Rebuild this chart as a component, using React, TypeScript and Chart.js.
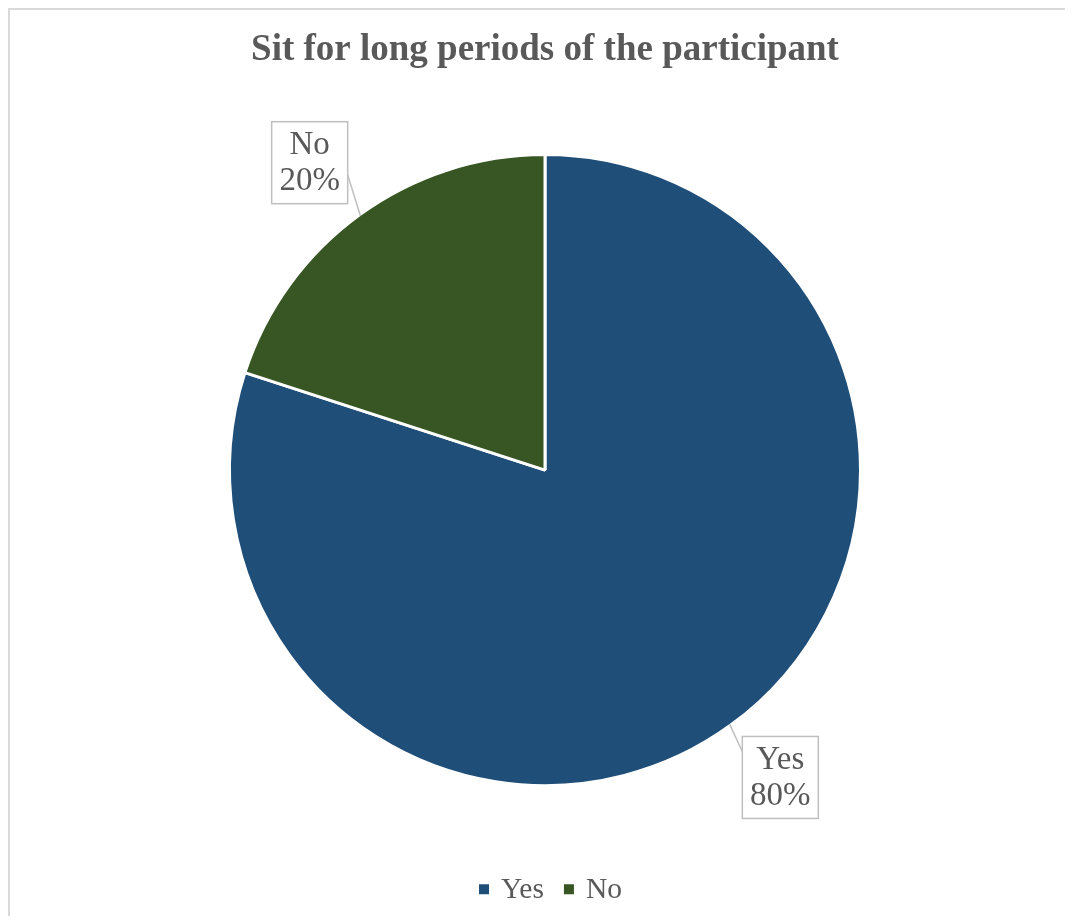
import React, { useEffect, useRef } from "react";
import { Chart, registerables } from "chart.js";

Chart.register(...registerables);

const categories = ["Yes", "No"];
const values = [80, 20];
const sliceColors = ["#1F4E79", "#375623"];
const chartTitle = "Sit for long periods of the participant";

const SERIF = "'Liberation Serif', 'Times New Roman', Times, serif";
const TEXT_GRAY = "#595959";

const calloutPlugin = {
  id: "callouts",
  afterDatasetsDraw(chart: any) {
    const ctx = chart.ctx;
    const meta = chart.getDatasetMeta(0);
    const total = values.reduce((a, b) => a + b, 0);
    meta.data.forEach((arc: any, i: number) => {
      const { x, y, startAngle, endAngle, outerRadius } = arc.getProps(
        ["x", "y", "startAngle", "endAngle", "outerRadius"],
        true
      );
      const mid = (startAngle + endAngle) / 2;
      const r = outerRadius - 1.5;
      const ex = x + Math.cos(mid) * r;
      const ey = y + Math.sin(mid) * r;
      const bx = x + Math.cos(mid) * r * 1.21 + Math.sign(Math.cos(mid)) * 12;
      const by = y + Math.sin(mid) * r * 1.21;
      const w = 76;
      const h = 82;
      const left = bx - w / 2;
      const top = by - h / 2;
      const sideX = bx < ex ? left + w : left;
      const sideY = by < ey ? by + 12 : by - 26;
      ctx.save();
      ctx.strokeStyle = "#bfbfbf";
      ctx.lineWidth = 1.5;
      ctx.beginPath();
      ctx.moveTo(ex, ey);
      ctx.lineTo(sideX, sideY);
      ctx.stroke();
      ctx.fillStyle = "#ffffff";
      ctx.fillRect(left, top, w, h);
      ctx.strokeRect(left, top, w, h);
      ctx.fillStyle = TEXT_GRAY;
      ctx.font = `33px ${SERIF}`;
      ctx.textAlign = "center";
      ctx.textBaseline = "middle";
      const pct = Math.round((values[i] / total) * 100) + "%";
      ctx.fillText(categories[i], bx, by - 17);
      ctx.fillText(pct, bx, by + 19);
      ctx.restore();
    });
  },
};

const bottomLegendPlugin = {
  id: "bottomLegend",
  afterDraw(chart: any) {
    const ctx = chart.ctx;
    const area = chart.chartArea;
    ctx.save();
    ctx.font = `29.5px ${SERIF}`;
    ctx.textBaseline = "middle";
    ctx.textAlign = "left";
    const box = 10;
    const gapText = 12;
    const gapItem = 20;
    const widths = categories.map((c) => box + gapText + ctx.measureText(c).width);
    const total = widths.reduce((a, b) => a + b, 0) + gapItem * (categories.length - 1);
    let xPos = (area.left + area.right) / 2 + 5.5 - total / 2;
    const yMid = area.bottom + 33;
    categories.forEach((c, i) => {
      ctx.fillStyle = sliceColors[i];
      ctx.fillRect(xPos, yMid - box / 2, box, box);
      ctx.fillStyle = TEXT_GRAY;
      ctx.fillText(c, xPos + box + gapText, yMid + 1);
      xPos += widths[i] + gapItem;
    });
    ctx.restore();
  },
};

export default function App() {
  const canvasRef = useRef<HTMLCanvasElement | null>(null);

  useEffect(() => {
    if (!canvasRef.current) return;
    const chart = new Chart(canvasRef.current, {
      type: "pie",
      data: {
        labels: categories,
        datasets: [
          {
            data: values,
            backgroundColor: sliceColors,
            borderColor: "#ffffff",
            borderWidth: 3,
            radius: 315.5,
          } as any,
        ],
      },
      options: {
        animation: false,
        responsive: true,
        maintainAspectRatio: false,
        layout: { padding: { left: 15, right: 0, top: 0, bottom: 59.75 } },
        plugins: {
          title: {
            display: true,
            text: chartTitle,
            color: TEXT_GRAY,
            font: { family: SERIF, size: 37, weight: "bold", lineHeight: 1.2 },
            padding: { top: 18, bottom: 11.5 },
          },
          legend: { display: false },
          tooltip: { enabled: false },
        },
      } as any,
      plugins: [calloutPlugin, bottomLegendPlugin],
    });
    return () => chart.destroy();
  }, []);

  return (
    <div
      style={{
        width: 1057,
        height: 908,
        boxSizing: "border-box",
        borderLeft: "2px solid #d9d9d9",
        borderTop: "2px solid #d9d9d9",
        background: "#ffffff",
        position: "relative",
      }}
    >
      <div style={{ position: "absolute", left: 0, top: 0, width: 1055, height: 906 }}>
        <canvas ref={canvasRef} />
      </div>
    </div>
  );
}
